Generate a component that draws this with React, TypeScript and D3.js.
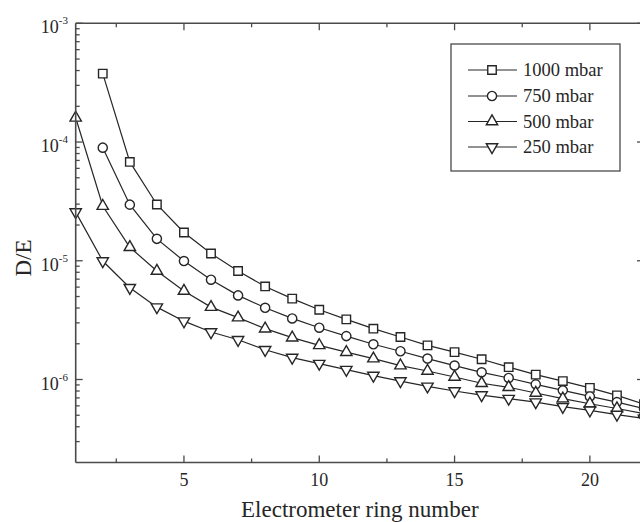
import React from "react";
import * as d3 from "d3";

const ringNumbers = [1, 2, 3, 4, 5, 6, 7, 8, 9, 10, 11, 12, 13, 14, 15, 16, 17, 18, 19, 20, 21, 22];

// values (null = no point)
const s1000: (number | null)[] = [null, 3.77e-4, 6.8e-5, 2.98e-5, 1.73e-5, 1.15e-5, 8.2e-6, 6.08e-6, 4.8e-6, 3.87e-6, 3.21e-6, 2.68e-6, 2.28e-6, 1.94e-6, 1.7e-6, 1.48e-6, 1.27e-6, 1.1e-6, 9.7e-7, 8.5e-7, 7.35e-7, 6.2e-7];
const s750: (number | null)[] = [null, 8.97e-5, 2.97e-5, 1.53e-5, 9.95e-6, 6.93e-6, 5.11e-6, 4.02e-6, 3.27e-6, 2.73e-6, 2.32e-6, 1.98e-6, 1.73e-6, 1.5e-6, 1.31e-6, 1.15e-6, 1.03e-6, 9.1e-7, 8.1e-7, 7.2e-7, 6.45e-7, 5.7e-7];
const s500: (number | null)[] = [1.6e-4, 2.89e-5, 1.3e-5, 8.2e-6, 5.56e-6, 4.07e-6, 3.32e-6, 2.68e-6, 2.25e-6, 1.94e-6, 1.7e-6, 1.5e-6, 1.31e-6, 1.18e-6, 1.05e-6, 9.3e-7, 8.6e-7, 7.7e-7, 6.9e-7, 6.25e-7, 5.7e-7, 5.15e-7];
const s250: (number | null)[] = [2.57e-5, 9.95e-6, 5.93e-6, 4.07e-6, 3.1e-6, 2.51e-6, 2.16e-6, 1.78e-6, 1.53e-6, 1.36e-6, 1.21e-6, 1.08e-6, 9.7e-7, 8.75e-7, 8.0e-7, 7.4e-7, 6.9e-7, 6.45e-7, 5.9e-7, 5.5e-7, 5.07e-7, 4.7e-7];

const seriesNames = ["1000 mbar", "750 mbar", "500 mbar", "250 mbar"];
const seriesValues = [s1000, s750, s500, s250];
const seriesMarkers = ["square", "circle", "triangle", "triangleDown"];

const xTicksMajor = [5, 10, 15, 20];
const xTicksMinor = [2.5, 7.5, 12.5, 17.5, 22.5];
const yDecades = [-6, -5, -4, -3];

const W = 640;
const H = 522;
const INK = "#262626";
const AXIS = "#4a4a4a";
const FONT = "Liberation Serif, Times New Roman, Times, DejaVu Serif, serif";

function markerPath(kind: string): string {
  if (kind === "square") return d3.symbol().type(d3.symbolSquare).size(72)()!;
  if (kind === "circle") return d3.symbol().type(d3.symbolCircle).size(66)()!;
  return d3.symbol().type(d3.symbolTriangle).size(56)()!;
}

export default function App() {
  const x = d3.scaleLinear().domain([1, 22]).range([75.7, 644]);
  const y = d3.scaleLog().domain([2e-7, 1e-3]).range([462.5, 23.3]);
  const [x0, x1] = x.range();
  const [yb, yt] = y.range();

  const line = d3
    .line<[number, number | null]>()
    .defined((d) => d[1] != null)
    .x((d) => x(d[0]))
    .y((d) => y(d[1] as number));

  const yMinor: number[] = [];
  for (let e = -7; e <= -4; e++) {
    for (let m = 2; m <= 9; m++) {
      const v = m * Math.pow(10, e);
      if (v > 2e-7 && v < 1e-3) yMinor.push(v);
    }
  }

  const legendX = 451;
  const legendY = 44;
  const legendW = 169;
  const legendH = 127;
  const rowY = [70, 96, 121.5, 147];

  const txt = { fontFamily: FONT };

  const renderMarker = (kind: string, cx: number, cy: number, key: string) => (
    <path
      key={key}
      d={markerPath(kind)}
      transform={`translate(${cx},${cy})${kind === "triangleDown" ? " rotate(180)" : ""}`}
      fill="#fff"
      stroke={INK}
      strokeWidth={1.4}
    />
  );

  return (
    <svg
      width={W}
      height={H}
      style={{ position: "absolute", left: 0, top: 0, background: "#fff", fontFamily: FONT }}
    >
      <rect x={0} y={0} width={W} height={H} fill="#fff" />

      {/* series lines */}
      {seriesValues.map((vals, si) => (
        <path
          key={"l" + si}
          d={line(ringNumbers.map((r, i) => [r, vals[i]] as [number, number | null]))!}
          fill="none"
          stroke={INK}
          strokeWidth={1.2}
        />
      ))}
      {/* markers */}
      {seriesValues.map((vals, si) =>
        ringNumbers.map((r, i) =>
          vals[i] == null ? null : renderMarker(seriesMarkers[si], x(r), y(vals[i] as number), `m${si}-${i}`)
        )
      )}

      {/* frame */}
      <g stroke={AXIS} strokeWidth={1.6} fill="none">
        <line x1={x0} x2={x0} y1={yt} y2={yb} />
        <line x1={x0} x2={x1} y1={yb} y2={yb} />
        <line x1={x0} x2={x1} y1={yt} y2={yt} />
        <line x1={x1} x2={x1} y1={yt} y2={yb} />
      </g>

      {/* ticks */}
      <g stroke={AXIS} strokeWidth={1.3}>
        {xTicksMajor.map((t) => (
          <g key={"xM" + t}>
            <line x1={x(t)} x2={x(t)} y1={yb} y2={yb - 7} />
            <line x1={x(t)} x2={x(t)} y1={yt} y2={yt + 7} />
          </g>
        ))}
        {xTicksMinor.map((t) => (
          <g key={"xm" + t}>
            <line x1={x(t)} x2={x(t)} y1={yb} y2={yb - 4} />
            <line x1={x(t)} x2={x(t)} y1={yt} y2={yt + 4} />
          </g>
        ))}
        {yDecades.map((e) => {
          const yy = y(Math.pow(10, e));
          return (
            <g key={"yM" + e}>
              <line x1={x0} x2={x0 + 7} y1={yy} y2={yy} />
              <line x1={x1} x2={x1 - 7} y1={yy} y2={yy} />
            </g>
          );
        })}
        {yMinor.map((v, i) => (
          <g key={"ym" + i}>
            <line x1={x0} x2={x0 + 4} y1={y(v)} y2={y(v)} />
            <line x1={x1} x2={x1 - 4} y1={y(v)} y2={y(v)} />
          </g>
        ))}
      </g>

      {/* x tick labels */}
      {xTicksMajor.map((t) => (
        <text key={"xl" + t} x={x(t)} y={486} textAnchor="middle" fontSize={18} fill={INK} style={txt}>
          {t}
        </text>
      ))}
      {/* y tick labels */}
      {yDecades.map((e) => (
        <text key={"yl" + e} x={68} y={y(Math.pow(10, e)) + 10} textAnchor="end" fontSize={18} fill={INK} style={txt}>
          10
          <tspan dy={-9} fontSize={11}>
            {String(e)}
          </tspan>
        </text>
      ))}

      {/* axis titles */}
      <text x={(x0 + x1) / 2} y={517} textAnchor="middle" fontSize={23} fill={INK} style={txt}>
        Electrometer ring number
      </text>
      <text
        transform={`translate(31,${258}) rotate(-90)`}
        textAnchor="middle"
        fontSize={23}
        fill={INK}
        style={txt}
      >
        D/E
      </text>

      {/* legend */}
      <rect x={legendX} y={legendY} width={legendW} height={legendH} fill="#fff" stroke={AXIS} strokeWidth={1.3} />
      {seriesNames.map((name, i) => (
        <g key={"lg" + i}>
          <line x1={468} x2={517} y1={rowY[i]} y2={rowY[i]} stroke={INK} strokeWidth={1.2} />
          {renderMarker(seriesMarkers[i], 492, rowY[i], "lgm" + i)}
          <text x={523} y={rowY[i] + 6} fontSize={18.5} fill={INK} style={txt}>
            {name}
          </text>
        </g>
      ))}
    </svg>
  );
}
